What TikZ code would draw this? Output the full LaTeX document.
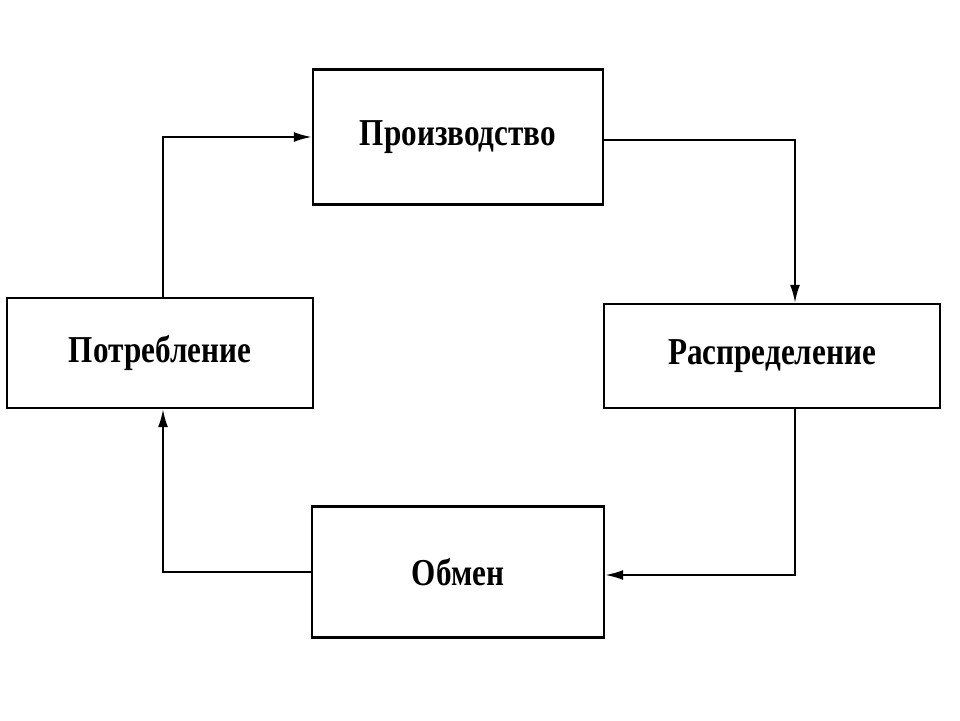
\documentclass[tikz,border=0pt]{standalone}
\usepackage{fontspec}
\setmainfont{Liberation Serif}
\usetikzlibrary{arrows.meta}
\newcommand{\cnd}[1]{\scalebox{0.82}[1]{#1}}
\begin{document}
\begin{tikzpicture}[x=1pt,y=-1pt,
  box/.style={draw,line width=2.4pt,inner sep=0pt,font=\fontsize{38}{44}\selectfont\bfseries},
  conn/.style={line width=2pt,-{Latex[length=18pt,width=10pt]}}]
\useasboundingbox (0,0) rectangle (960,720);
\node[box,minimum width=290pt,minimum height=135pt] (p) at (458,137) {\cnd{Производство}};
\node[box,minimum width=336pt,minimum height=104pt] (r) at (772,356) {\cnd{Распределение}};
\node[box,minimum width=306pt,minimum height=110pt] (c) at (160,353) {\cnd{Потребление}};
\node[box,minimum width=292pt,minimum height=131pt] (o) at (458,572) {\cnd{Обмен}};
\coordinate (a1) at (795,140);
\coordinate (a2) at (795,575);
\coordinate (a3) at (163,572);
\coordinate (a4) at (163,137);
\draw[conn] (p.east |- a1) -- (a1) -- (a1 |- r.north);
\draw[conn] (a2 |- r.south) -- (a2) -- (o.east |- a2);
\draw[conn] (o.west |- a3) -- (a3) -- (a3 |- c.south);
\draw[conn] (a4 |- c.north) -- (a4) -- (p.west |- a4);
\end{tikzpicture}
\end{document}
